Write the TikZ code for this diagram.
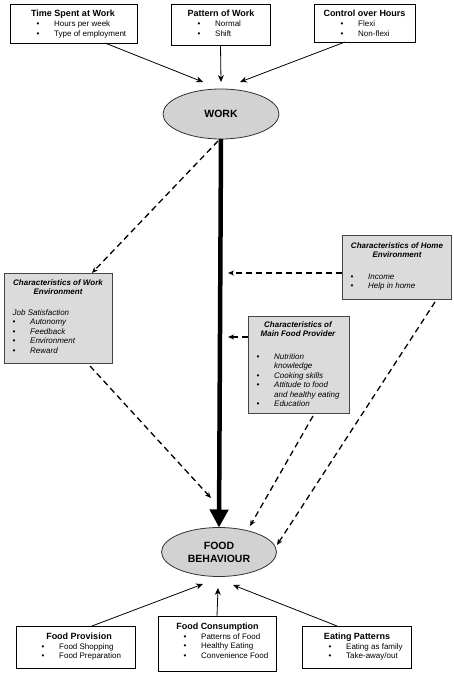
\documentclass[tikz,border=0pt]{standalone}
\usepackage{fontspec}
\setmainfont{Liberation Sans}
\usetikzlibrary{arrows.meta,shapes.geometric,calc}
\newcommand{\blist}[1]{\begin{tabular}[t]{@{}p{17.5pt}@{}l@{}}#1\end{tabular}}
\newcommand{\bi}{\textbullet &}
\newcommand{\ctab}[1]{\begin{tabular}[t]{@{}c@{}}#1\end{tabular}}
\tikzset{
  box/.style={draw=black, line width=0.9pt, fill=white, inner sep=0pt, outer sep=0pt, anchor=north west},
  gbox/.style={draw=gray!55!black, line width=0.9pt, fill=gray!28, inner sep=0pt, outer sep=0pt, anchor=north west},
  ttl/.style={font=\fontsize{9}{10}\selectfont\bfseries, anchor=base, inner sep=0pt},
  lst/.style={font=\fontsize{8}{9.5}\selectfont, anchor=base west, inner sep=0pt},
  gttl/.style={font=\fontsize{8}{9}\selectfont\bfseries\itshape, anchor=base, inner sep=0pt},
  glst/.style={font=\fontsize{8}{9.5}\selectfont\itshape, anchor=base west, inner sep=0pt},
  oval/.style={ellipse, draw=black!80, fill=gray!35, line width=0.8pt, inner sep=0pt, outer sep=0pt, font=\fontsize{10.5}{13}\selectfont\bfseries, align=center},
  solidarrow/.style={line width=0.8pt, -{Stealth[length=7pt,width=6pt]}},
  dasharrow/.style={line width=1.3pt, dash pattern=on 6pt off 4pt, -{Stealth[length=6pt,width=5pt]}},
  thickarrow/.style={line width=4.5pt, -{Triangle[width=18pt,length=18pt]}}
}
\begin{document}
\begin{tikzpicture}[x=1pt,y=-1pt]
\path[fill=white] (0,0) rectangle (454,679);
\useasboundingbox (0,0) rectangle (454,679);

% top boxes
\node[box, minimum width=127pt, minimum height=39pt] (ts) at (10,4) {};
\node[ttl] (tst) at (73,17) {Time Spent at Work};
\node[lst] (tsl) at (36.5,27) {\blist{\bi Hours per week\\ \bi Type of employment}};

\node[box, minimum width=99pt, minimum height=41pt] (pw) at (171,4) {};
\node[ttl] (pwt) at (221,17) {Pattern of Work};
\node[lst] (pwl) at (197.5,27) {\blist{\bi Normal\\ \bi Shift}};

\node[box, minimum width=101pt, minimum height=38pt] (ch) at (314,4) {};
\node[ttl] (cht) at (364.5,17) {Control over Hours};
\node[lst] (chl) at (340.5,27) {\blist{\bi Flexi\\ \bi Non-flexi}};

% ellipses
\node[oval, minimum width=116pt, minimum height=50pt] (work) at (221,114) {WORK};
\node[oval, minimum width=115pt, minimum height=49pt] (fb) at (219,552) {FOOD\\BEHAVIOUR};

% grey boxes
\node[gbox, minimum width=108pt, minimum height=90pt] (wenv) at (4,273) {};
\node[gttl] (wenvt) at (58,285) {\ctab{Characteristics of Work\\Environment}};
\node[glst] (wenvl) at (12.5,315) {\blist{\multicolumn{2}{@{}l@{}}{Job Satisfaction}\\ \bi Autonomy\\ \bi Feedback\\ \bi Environment\\ \bi Reward}};

\node[gbox, minimum width=109pt, minimum height=64pt] (home) at (342,235) {};
\node[gttl] (homet) at (397,248) {\ctab{Characteristics of Home\\Environment}};
\node[glst] (homel) at (350.5,279) {\blist{\bi Income\\ \bi Help in home}};

\node[gbox, minimum width=101pt, minimum height=97pt] (mfp) at (248,316) {};
\node[gttl] (mfpt) at (298,327) {\ctab{Characteristics of\\Main Food Provider}};
\node[glst] (mfpl) at (256.5,359) {\blist{\bi Nutrition\\ & knowledge\\ \bi Cooking skills\\ \bi Attitude to food\\ & and healthy eating\\ \bi Education}};

% bottom boxes
\node[box, minimum width=119pt, minimum height=42pt] (fp) at (16,626) {};
\node[ttl] (fpt) at (79,639) {Food Provision};
\node[lst] (fpl) at (41.5,649) {\blist{\bi Food Shopping\\ \bi Food Preparation}};

\node[box, minimum width=118pt, minimum height=55pt] (fc) at (158,616) {};
\node[ttl] (fct) at (217.5,629) {Food Consumption};
\node[lst] (fcl) at (183.5,639) {\blist{\bi Patterns of Food\\ \bi Healthy Eating\\ \bi Convenience Food}};

\node[box, minimum width=109pt, minimum height=42pt] (ep) at (302,626) {};
\node[ttl] (ept) at (357,639) {Eating Patterns};
\node[lst] (epl) at (328.5,649) {\blist{\bi Eating as family\\ \bi Take-away/out}};

% arrow end points
\coordinate (wa) at (203,82);
\coordinate (wb) at (221,82);
\coordinate (wc) at (240,82);
\coordinate (fa) at (203,584);
\coordinate (fbb) at (218,588);
\coordinate (fcc) at (233,585);
\coordinate (tk1) at (228,273);
\coordinate (tk2) at (228,337);
\coordinate (e1) at (211,498);
\coordinate (e2) at (250,526);
\coordinate (e3) at (277,545);

% top arrows
\draw[solidarrow] ($(ts.south west)+(95,0)$) -- (wa);
\draw[solidarrow] (pw.south) -- (wb);
\draw[solidarrow] ($(ch.south west)+(31,0)$) -- (wc);

% thick arrow
\draw[thickarrow] (work.south) -- (fb.north);

% dashed arrows
\draw[dasharrow] ($(work.south)+(-3,2)$) -- ($(wenv.north west)+(88,0)$);
\draw[dasharrow] ($(wenv.south west)+(86,3)$) -- (e1);
\draw[dasharrow] ($(home.north west)+(0,38)$) -- (tk1);
\draw[dasharrow] ($(mfp.north west)+(0,21)$) -- (tk2);
\draw[dasharrow] ($(mfp.south west)+(65,3)$) -- (e2);
\draw[dasharrow] ($(home.south west)+(93,3)$) -- (e3);

% bottom arrows
\draw[solidarrow] ($(fp.north west)+(76,0)$) -- (fa);
\draw[solidarrow] (fc.north) -- (fbb);
\draw[solidarrow] ($(ep.north west)+(35,0)$) -- (fcc);
\end{tikzpicture}
\end{document}
